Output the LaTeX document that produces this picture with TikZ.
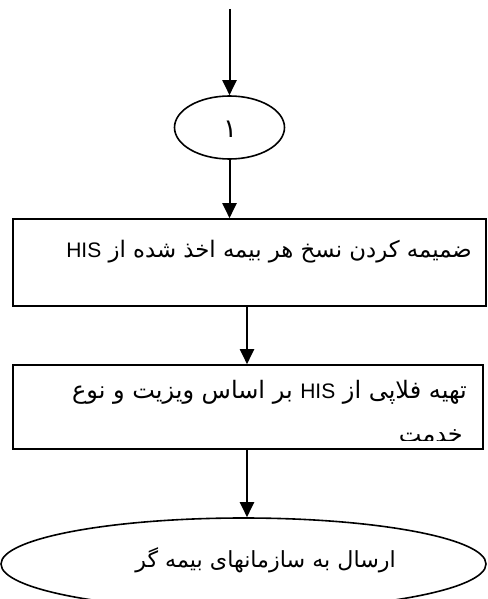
\documentclass[tikz,border=0pt]{standalone}
\usepackage{fontspec}
\newfontfamily\arabicfont[Script=Arabic]{DejaVu Sans}
\newfontfamily\latinfont{Liberation Sans}
\TeXXeTstate=1
\usetikzlibrary{shapes.geometric,arrows.meta}
\newcommand{\hisword}{\beginL{\latinfont\fontsize{21}{24}\selectfont HIS}\endL}
\begin{document}
\begin{tikzpicture}[x=1pt,y=-1pt,
  arr/.style={line width=2pt,-{Triangle[length=15pt,width=14pt]}},
  shp/.style={draw,line width=1.6pt,inner sep=0pt},
  ell/.style={shp,ellipse},
  boxx/.style={shp,rectangle},
  txt/.style={inner sep=0pt,anchor=base east,font=\arabicfont\fontsize{23}{26}\selectfont}]
\useasboundingbox (0,0) rectangle (487,599);
\clip (0,0) rectangle (487,599);
\coordinate (start) at (229.5,9);
\node[ell,minimum width=110pt,minimum height=63pt] (e1) at (229.5,127.5) {};
\node[inner sep=0pt,anchor=base,font=\arabicfont\fontsize{26}{28}\selectfont] (n1) at (230,137) {١};
\node[boxx,minimum width=473pt,minimum height=87pt] (b1) at (249.5,262.5) {};
\node[boxx,minimum width=470pt,minimum height=84pt] (b2) at (248,407) {};
\node[ell,minimum width=485pt,minimum height=92pt] (e2) at (243.5,564) {};
\node[txt,font=\arabicfont\fontsize{22.8}{26}\selectfont] (t1) at (472,257) {\beginR ضمیمه کردن نسخ هر بیمه اخذ شده از \hisword\endR};
\node[txt,font=\arabicfont\fontsize{24}{26}\selectfont] (t2) at (467,398) {\beginR تهیه فلاپی از \hisword{} بر اساس ویزیت و نوع\endR};
\begin{scope}
\clip (20,370) rectangle (480,440);
\node[txt,font=\arabicfont\fontsize{24}{26}\selectfont] (t3) at (463,442) {\beginR خدمت\endR};
\end{scope}
\node[txt,font=\arabicfont\fontsize{22.2}{26}\selectfont] (t4) at (396,567) {\beginR ارسال به سازمانهای بیمه گر\endR};
\draw[arr] (start) -- (e1.north);
\draw[arr] (e1.south) -- (e1.south |- b1.north);
\draw[arr] ([xshift=-2.5pt]b1.south) -- ([xshift=-2.5pt]b1.south |- b2.north);
\draw[arr] ([xshift=-1pt]b2.south) -- ([xshift=-1pt]b2.south |- e2.north);
\end{tikzpicture}
\end{document}
